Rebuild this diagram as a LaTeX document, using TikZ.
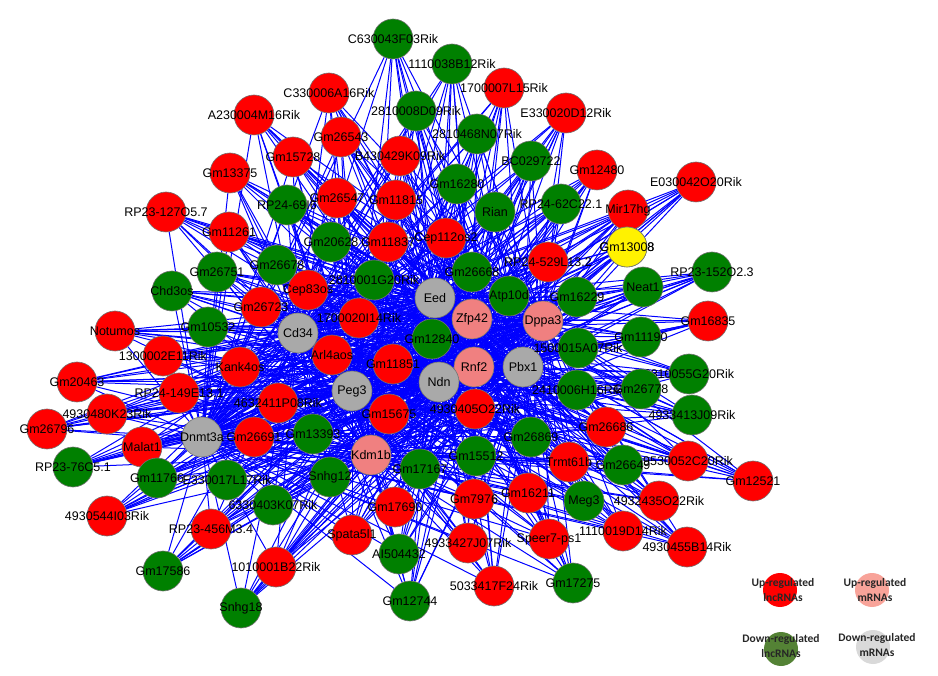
\documentclass[tikz,border=0pt]{standalone}
\usepackage{fontspec}
\setmainfont{Liberation Sans}
\newfontfamily\legendfont{Carlito}
\usetikzlibrary{backgrounds}

\definecolor{lncup}{RGB}{255,0,0}
\definecolor{lncdown}{RGB}{0,128,0}
\definecolor{mrnaup}{RGB}{240,128,128}
\definecolor{mrnadown}{RGB}{169,169,169}
\definecolor{keyup}{RGB}{255,0,0}
\definecolor{keymup}{RGB}{248,163,153}
\definecolor{keydown}{RGB}{84,130,53}
\definecolor{keymdown}{RGB}{217,217,217}

% x/y/name/label
\newcommand{\uplnc}{254/115/A230004M16Rik/A230004M16Rik, 329/93/C330006A16Rik/C330006A16Rik,
  293/157/Gm15728/Gm15728, 230/173/Gm13375/Gm13375, 166/212/RP23-127O5-7/RP23-127O5.7,
  229/232/Gm11261/Gm11261, 504/88/1700007L15Rik/1700007L15Rik, 566/113/E330020D12Rik/E330020D12Rik,
  341/137/Gm26543/Gm26543, 400/156/B430429K09Rik/B430429K09Rik, 597/170/Gm12480/Gm12480,
  337/198/Gm26547/Gm26547, 396/200/Gm11815/Gm11815, 628/210/Mir17hg/Mir17hg,
  696/182/E030042O20Rik/E030042O20Rik, 708/321/Gm16835/Gm16835, 606/427/Gm26686/Gm26686,
  388/242/Gm11837/Gm11837, 446/238/Cep112os2/Cep112os2, 548/262/RP24-529L13-2/RP24-529L13.2,
  308/290/Cep83os/Cep83os, 359/318/1700020I14Rik/1700020I14Rik, 332/355/Arl4aos/Arl4aos,
  393/364/Gm11851/Gm11851, 389/414/Gm15675/Gm15675, 475/409/4930405O22Rik/4930405O22Rik,
  569/462/Trmt61b/Trmt61b, 688/461/9530052C20Rik/9530052C20Rik, 753/481/Gm12521/Gm12521,
  659/501/4932435O22Rik/4932435O22Rik, 623/531/1110019D14Rik/1110019D14Rik,
  687/547/4930455B14Rik/4930455B14Rik, 528/493/Gm16211/Gm16211, 474/499/Gm7976/Gm7976,
  395/507/Gm17690/Gm17690, 352/535/Spata5l1/Spata5l1, 468/543/4933427J07Rik/4933427J07Rik,
  549/539/Speer7-ps1/Speer7-ps1, 494/586/5033417F24Rik/5033417F24Rik, 261/307/Gm26723/Gm26723,
  115/331/Notumos/Notumos, 163/356/1300002E11Rik/1300002E11Rik, 240/367/Kank4os/Kank4os,
  77/382/Gm20463/Gm20463, 179/393/RP24-149E13-1/RP24-149E13.1, 278/403/4632411P08Rik/4632411P08Rik,
  107/414/4930480K23Rik/4930480K23Rik, 47/429/Gm26796/Gm26796, 142/447/Malat1/Malat1,
  254/437/Gm26691/Gm26691, 107/516/4930544I03Rik/4930544I03Rik, 211/529/RP23-456M3-4/RP23-456M3.4,
  276/567/1010001B22Rik/1010001B22Rik}
\newcommand{\downlnc}{393/39/C630043F03Rik/C630043F03Rik, 452/64/1110038B12Rik/1110038B12Rik,
  416/111/2810008D09Rik/2810008D09Rik, 477/134/2810468N07Rik/2810468N07Rik, 531/161/BC029722/BC029722,
  457/184/Gm16280/Gm16280, 495/212/Rian/Rian, 561/204/RP24-62C22-1/RP24-62C22.1,
  287/205/RP24-69I6/RP24-69I6, 712/272/RP23-152O2-3/RP23-152O2.3, 643/287/Neat1/Neat1,
  641/337/Gm11190/Gm11190, 689/374/2810055G20Rik/2810055G20Rik, 577/390/2410006H16Rik/2410006H16Rik,
  641/389/Gm26778/Gm26778, 692/415/4933413J09Rik/4933413J09Rik, 331/242/Gm20628/Gm20628,
  472/272/Gm26668/Gm26668, 374/280/2810001G20Rik/2810001G20Rik, 509/296/Atp10d/Atp10d,
  577/297/Gm16229/Gm16229, 432/339/Gm12840/Gm12840, 578/348/1500015A07Rik/1500015A07Rik,
  531/437/Gm26869/Gm26869, 313/434/Gm13393/Gm13393, 330/477/Snhg12/Snhg12,
  476/456/Gm15512/Gm15512, 623/465/Gm26649/Gm26649, 584/501/Meg3/Meg3, 420/469/Gm17167/Gm17167,
  399/554/AI504432/AI504432, 573/583/Gm17275/Gm17275, 410/601/Gm12744/Gm12744,
  217/272/Gm26751/Gm26751, 277/265/Gm26678/Gm26678, 172/291/Chd3os/Chd3os, 208/327/Gm10532/Gm10532,
  73/467/RP23-76C5-1/RP23-76C5.1, 157/478/Gm11766/Gm11766, 227/480/E330017L17Rik/E330017L17Rik,
  273/505/6330403K07Rik/6330403K07Rik, 163/571/Gm17586/Gm17586, 241/608/Snhg18/Snhg18,
  627/247/Gm13008/Gm13008}
\newcommand{\hubs}{Eed,Zfp42,Dppa3,Cd34,Ndn,Rnf2,Pbx1,Peg3,Dnmt3a,Kdm1b}

\begin{document}
\begin{tikzpicture}[x=1pt, y=-1pt,
  every label/.style={font=\fontsize{12.5}{14}\selectfont, inner sep=0pt},
  gene/.style={circle, draw=black!55, line width=0.6pt, minimum size=40pt, inner sep=0pt, label={center:#1}},
  link/.style={blue, line width=1pt},
  keydot/.style={circle, minimum size=34pt, inner sep=0pt},
  keytext/.style={align=center, inner sep=0pt, text=black!85,
    font=\legendfont\bfseries\fontsize{11.5}{15}\selectfont}]
  \useasboundingbox (0,0) rectangle (938,676);

  % mRNA hubs
  \foreach \x/\y/\n in {472/319/Zfp42, 543/321/Dppa3, 474/367/Rnf2, 371/455/Kdm1b}
    \node[gene=\n, fill=mrnaup] (\n) at (\x,\y) {};
  \foreach \x/\y/\n in {435/298/Eed, 298/333/Cd34, 439/382/Ndn, 523/367/Pbx1, 352/391/Peg3, 202/437/Dnmt3a}
    \node[gene=\n, fill=mrnadown] (\n) at (\x,\y) {};

  % lncRNAs
  \foreach \x/\y/\n/\t in \uplnc
    \node[gene=\t, fill=lncup] (\n) at (\x,\y) {};
  \foreach \x/\y/\n/\t in \downlnc
    \node[gene=\t, fill=lncdown] (\n) at (\x,\y) {};
  \node[gene=Gm13008, fill=yellow] (Gm13008) at (627,247) {};

  % co-expression links, behind the nodes
  \begin{pgfonlayer}{background}
    \foreach \x/\y/\n/\t in \uplnc
      \foreach \h in \hubs \draw[link] (\n) -- (\h);
    \foreach \x/\y/\n/\t in \downlnc
      \foreach \h in \hubs \draw[link] (\n) -- (\h);
  \end{pgfonlayer}

  % Legend
  \node[keydot, fill=keyup] (keyUp) at (780,590) {};
  \node[keytext] (keyUpText) at (783,590) {Up-regulated\\lncRNAs};
  \node[keydot, fill=keymup] (keyUpM) at (872,590) {};
  \node[keytext] (keyUpMText) at (875,590) {Up-regulated\\mRNAs};
  \node[keydot, fill=keydown] (keyDown) at (781,649) {};
  \node[keytext] (keyDownText) at (781,646) {Down-regulated\\lncRNAs};
  \node[keydot, fill=keymdown] (keyDownM) at (873,647) {};
  \node[keytext] (keyDownMText) at (877,645) {Down-regulated\\mRNAs};
\end{tikzpicture}
\end{document}
